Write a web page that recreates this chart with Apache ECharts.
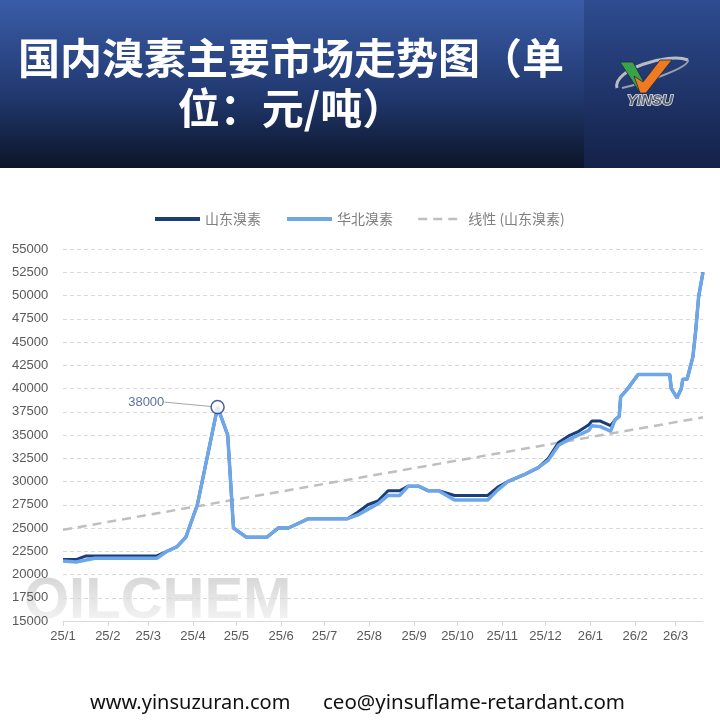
<!DOCTYPE html>
<html>
<head>
<meta charset="utf-8">
<script src="https://cdn.jsdelivr.net/npm/echarts@6/dist/echarts.min.js"></script>
<style>
html,body{margin:0;padding:0;background:#fff;}
#c{width:720px;height:720px;}
</style>
</head>
<body>
<div id="c"></div>
<script>
// ---- data ----
const dates = [
 '2025-01-01','2025-01-10','2025-01-17','2025-01-23','2025-03-07','2025-03-14','2025-03-21','2025-03-27',
 '2025-04-04','2025-04-18','2025-04-25','2025-04-29','2025-05-08','2025-05-22','2025-05-30','2025-06-06',
 '2025-06-20','2025-07-17','2025-07-24','2025-07-31','2025-08-07','2025-08-14','2025-08-22','2025-08-28',
 '2025-09-04','2025-09-11','2025-09-18','2025-09-29','2025-10-22','2025-10-29','2025-11-05','2025-11-17',
 '2025-11-26','2025-12-03','2025-12-10','2025-12-17','2025-12-24','2025-12-31','2026-01-02','2026-01-08',
 '2026-01-15','2026-01-18','2026-01-21','2026-01-22','2026-01-27','2026-02-03','2026-02-25','2026-02-26',
 '2026-03-02','2026-03-05','2026-03-06','2026-03-09','2026-03-13','2026-03-15','2026-03-17','2026-03-20'
];
const shandong = [
 21600,21600,22000,22000,22000,22500,23000,24000,
 27500,38000,35000,25000,24000,24000,25000,25000,
 26000,26000,26700,27500,27900,29000,29000,29500,
 29500,29000,29000,28500,28500,29400,30000,30800,
 31500,32500,34200,34900,35400,36100,36500,36500,
 36000,36600,37000,39100,40000,41500,41500,40000,
 39000,40000,41000,41000,43400,46300,49900,52500
];
const huabei = [
 21450,21350,21550,21750,21750,22500,23000,24000,
 27500,38000,35000,25000,24000,24000,25000,25000,
 26000,26000,26400,27000,27600,28500,28500,29500,
 29500,29000,29000,28000,28000,29100,30000,30800,
 31500,32300,33900,34500,35000,35500,36000,35900,
 35400,36600,37000,39100,40000,41500,41500,40000,
 39000,40000,41000,41000,43400,46300,49900,52500
];
const trendDates = ['2025-01-01','2026-03-20'];
const trendValues = [24800, 36900];
const peakIndex = 9;
const seriesNames = ['山东溴素','华北溴素','线性 (山东溴素)'];
const yMin = 15000, yMax = 55000, yStep = 2500;

const chart = echarts.init(document.getElementById('c'), null, {renderer:'canvas'});
const pair = (d, v) => d.map((x, i) => [x, v[i]]);

const option = {
  animation: false,
  backgroundColor: '#ffffff',
  grid: {left: 63, right: 17, top: 249, bottom: 99, containLabel: false},
  legend: {
    top: 207, left: 148, itemWidth: 45, itemHeight: 14, itemGap: 24,
    itemStyle: {opacity: 0},
    data: [
      {name: seriesNames[0], lineStyle: {width: 4}},
      {name: seriesNames[1], lineStyle: {width: 4}},
      {name: seriesNames[2], lineStyle: {width: 2.5}}
    ],
    textStyle: {color: '#7f7f7f', fontSize: 14, fontFamily: '"Noto Sans CJK SC", sans-serif'}
  },
  xAxis: {
    type: 'time',
    min: dates[0], max: dates[dates.length - 1],
    splitNumber: 15,
    minInterval: 28 * 86400000,
    maxInterval: 31 * 86400000,
    axisLine: {lineStyle: {color: '#d9d9d9', width: 1}},
    axisTick: {show: true, length: 5, lineStyle: {color: '#d9d9d9'}},
    splitLine: {show: false},
    axisLabel: {
      color: '#595959', fontSize: 13, margin: 9, showMaxLabel: false,
      fontFamily: '"Liberation Sans", Arial, sans-serif',
      formatter: function (v) {
        const d = new Date(v);
        return String(d.getFullYear()).slice(2) + '/' + (d.getMonth() + 1);
      }
    }
  },
  yAxis: {
    type: 'value', min: yMin, max: yMax, interval: yStep,
    axisLine: {show: false}, axisTick: {show: false},
    splitLine: {lineStyle: {color: '#d9d9d9', type: [4, 3], width: 1}},
    axisLabel: {color: '#595959', fontSize: 13, margin: 51, align: 'left',
      fontFamily: '"Liberation Sans", Arial, sans-serif',
      formatter: function (v) { return String(v); }}
  },
  series: [
    {
      name: seriesNames[0], type: 'line', data: pair(dates, shandong),
      symbol: 'none', z: 2,
      lineStyle: {color: '#1b3d78', width: 3},
      itemStyle: {color: '#1b3d78'}
    },
    {
      name: seriesNames[1], type: 'line', data: pair(dates, huabei),
      symbol: 'none', z: 3,
      lineStyle: {color: '#6ea6ea', width: 3.5},
      itemStyle: {color: '#6ea6ea'}
    },
    {
      name: seriesNames[2], type: 'line', data: pair(trendDates, trendValues),
      symbol: 'none', z: 1,
      lineStyle: {color: '#bfbfbf', width: 2.5, type: [9, 6]},
      itemStyle: {color: '#bfbfbf'}
    },
    {
      name: 'peak', type: 'scatter', z: 6,
      data: [[dates[peakIndex], shandong[peakIndex]]],
      symbol: 'circle', symbolSize: 13,
      itemStyle: {color: '#ffffff', borderColor: '#1b3d78', borderWidth: 1.5},
      label: {
        show: true, position: 'left', distance: 5,
        color: '#2f4f85', fontSize: 13, fontFamily: '"Liberation Sans", Arial, sans-serif',
        formatter: function (p) { return String(p.value[1]); }
      },
      labelLayout: {dx: -41, dy: -5},
      labelLine: {show: true, lineStyle: {color: '#a6a6a6', width: 1}},
      silent: true
    }
  ],
  graphic: [
    {
      type: 'rect', z: -5, shape: {x: 0, y: 0, width: 584, height: 168},
      style: {fill: new echarts.graphic.LinearGradient(0, 0, 0, 1, [
        {offset: 0, color: '#3a5ca7'}, {offset: 0.55, color: '#223a72'}, {offset: 1, color: '#0c1528'}
      ])}
    },
    {
      type: 'rect', z: -5, shape: {x: 584, y: 0, width: 136, height: 168},
      style: {fill: new echarts.graphic.LinearGradient(0, 0, 0, 1, [
        {offset: 0, color: '#2e4c90'}, {offset: 1, color: '#142149'}
      ])}
    },
    {
      type: 'text', x: 291, y: 58, z: 10,
      style: {text: '国内溴素主要市场走势图（单', fill: '#ffffff', align: 'center', verticalAlign: 'middle',
        font: 'bold 42px "Noto Sans CJK SC", sans-serif'}
    },
    {
      type: 'text', x: 291, y: 108, z: 10,
      style: {text: '位：元/吨）', fill: '#ffffff', align: 'center', verticalAlign: 'middle',
        font: 'bold 42px "Noto Sans CJK SC", sans-serif'}
    },
    // logo swoosh
    {
      type: 'bezierCurve', z: 10,
      shape: {x1: 617, y1: 88, x2: 688, y2: 60, cpx1: 612, cpy1: 70, cpx2: 668, cpy2: 52},
      style: {stroke: '#b8bcc4', lineWidth: 3, fill: null}
    },
    {
      type: 'bezierCurve', z: 10,
      shape: {x1: 622, y1: 88, x2: 688, y2: 60, cpx1: 640, cpy1: 84, cpx2: 690, cpy2: 68},
      style: {stroke: '#9aa0aa', lineWidth: 2, fill: null}
    },
    // logo V
    {
      type: 'polygon', z: 11,
      shape: {points: [[620, 62], [633, 62], [646, 86], [640, 93]]},
      style: {fill: '#3aa34a', stroke: '#1c2a40', lineWidth: 0.8}
    },
    {
      type: 'polygon', z: 11,
      shape: {points: [[634, 76], [640, 93], [646, 93], [672, 60], [660, 60], [643, 82]]},
      style: {fill: '#f07a22', stroke: '#1c2a40', lineWidth: 0.8}
    },
    {
      type: 'text', x: 650, y: 101, z: 11,
      style: {text: 'YINSU', fill: '#5a6070', stroke: '#e6e8ec', lineWidth: 1.5, align: 'center', verticalAlign: 'middle',
        font: 'italic bold 15px "Liberation Sans", Arial, sans-serif'}
    },
    // watermark
    {
      type: 'text', x: 24, y: 602, z: -3,
      style: {text: 'OILCHEM', align: 'left', verticalAlign: 'middle', fill: '#d9d9d9',
        font: 'bold 58px "Liberation Sans", Arial, sans-serif'}
    },
    {
      type: 'rect', z: -2, shape: {x: 20, y: 580, width: 270, height: 44},
      style: {fill: new echarts.graphic.LinearGradient(0, 0, 0, 1, [
        {offset: 0, color: 'rgba(255,255,255,0)'}, {offset: 1, color: 'rgba(255,255,255,0.75)'}
      ])}
    },
    // footer
    {
      type: 'text', x: 90, y: 703, z: 10,
      style: {text: 'www.yinsuzuran.com', fill: '#111111', align: 'left', verticalAlign: 'middle',
        font: '20px "Noto Sans", sans-serif'}
    },
    {
      type: 'text', x: 323, y: 703, z: 10,
      style: {text: 'ceo@yinsuflame-retardant.com', fill: '#111111', align: 'left', verticalAlign: 'middle',
        font: '20.5px "Noto Sans", sans-serif'}
    }
  ]
};
chart.setOption(option);
</script>
</body>
</html>
